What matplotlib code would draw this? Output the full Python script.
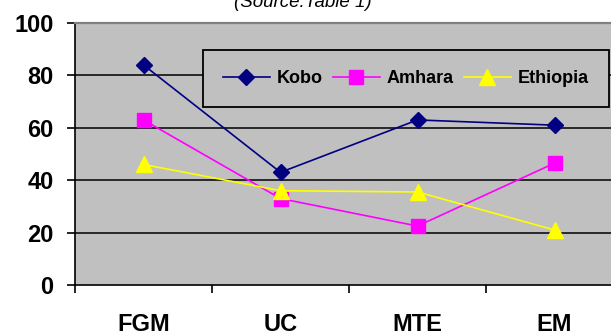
import matplotlib.pyplot as plt

# data
categories = ["FGM", "UC", "MTE", "EM"]
kobo = [84, 43, 63, 61]
amhara = [63, 33, 22.5, 46.5]
ethiopia = [46, 36, 35.5, 21]

plt.rcParams['font.family'] = ['Liberation Sans', 'DejaVu Sans']

W, H = 611, 334
fig = plt.figure(figsize=(W / 100, H / 100), dpi=100)
ax = fig.add_axes([75 / W, 49 / H, 548 / W, 262 / H])
ax.set_facecolor("#C0C0C0")

x = range(len(categories))
ax.plot(x, kobo, color="#000080", marker="D", markersize=8, lw=1.2, label="Kobo", zorder=3)
ax.plot(x, amhara, color="#FF00FF", marker="s", markersize=10, lw=1.2, label="Amhara", zorder=3)
ax.plot(x, ethiopia, color="#FFFF00", marker="^", markersize=11, lw=1.2, label="Ethiopia", zorder=3)

ax.set_xlim(-0.5, 3.5)
ax.set_ylim(0, 100)
ax.set_yticks([0, 20, 40, 60, 80, 100])
ax.set_yticklabels(["0", "20", "40", "60", "80", "100"], fontsize=17, fontweight="bold")
ax.set_xticks([-0.5, 0.5, 1.5, 2.5])
ax.set_xticklabels([])
ax.set_xticks(x, minor=True)
ax.set_xticklabels(categories, minor=True, fontsize=17, fontweight="bold")
ax.tick_params(axis="x", which="major", direction="out", length=6, width=1.2)
ax.tick_params(axis="x", which="minor", length=0, pad=20)
ax.tick_params(axis="y", direction="out", length=6, width=1.2, pad=9.5)

for v in [20, 40, 60, 80]:
    ax.axhline(v, color="black", lw=1.1, zorder=1)

ax.spines["right"].set_visible(False)
ax.spines["top"].set_color("#808080")
ax.spines["top"].set_linewidth(1.6)
ax.spines["left"].set_linewidth(1.2)
ax.spines["bottom"].set_linewidth(1.2)

leg = ax.legend(loc="upper left", bbox_to_anchor=(203 / W, 1 - 50 / H, 406 / W, 0),
                bbox_transform=fig.transFigure, mode="expand", ncol=3,
                prop={"weight": "bold", "size": 13}, frameon=True, fancybox=False,
                borderpad=1.1, handlelength=2.6, handletextpad=0.4, columnspacing=0.8,
                borderaxespad=0)
leg.get_frame().set_edgecolor("black")
leg.get_frame().set_linewidth(1.3)
leg.get_frame().set_facecolor("#C0C0C0")
leg.get_frame().set_alpha(1)

fig.text(303 / W, 1 - 7 / H, "(Source:Table 1)", ha="center", va="baseline",
         fontsize=13.5, style="italic")

fig.savefig("out.png", dpi=100)
